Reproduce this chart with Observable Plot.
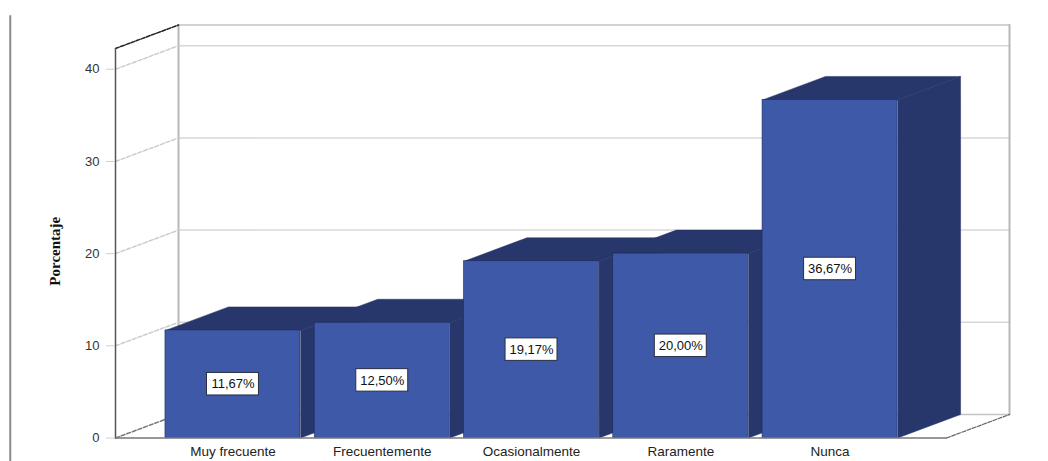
<!DOCTYPE html>
<html>
<head>
<meta charset="utf-8">
<script src="https://cdn.jsdelivr.net/npm/d3@7"></script>
<script src="https://cdn.jsdelivr.net/npm/@observablehq/plot@0.6"></script>
<style>
html,body{margin:0;padding:0;background:#fff;overflow:hidden}
svg{display:block}
</style>
</head>
<body>
<div id="chart"></div>
<script>
const categories = ["Muy frecuente", "Frecuentemente", "Ocasionalmente", "Raramente", "Nunca"];
const percentages = [11.67, 12.50, 19.17, 20.00, 36.67];
const percentLabels = ["11,67%", "12,50%", "19,17%", "20,00%", "36,67%"];
const yTicks = [0, 10, 20, 30, 40];
const yTitle = "Porcentaje";

// Axis-unit geometry of the 3D box (x in category steps, y in percent)
const xMin = -0.787, xMax = 4.78, yMax = 42.25;
const depthX = 0.4221, depthY = 2.55;
const halfBar = 0.4523, halfBoxX = 0.174, halfBoxY = 1.22;

const FRONT = "#3e59a8", DARK = "#27366b";
const seg = (pts, o) => Plot.line(pts, {x: "x", y: "y", ...o});
const P = (x, y) => ({x, y});

const back = (x, y) => P(x + depthX, y + depthY);

const marks = [
  // page rule at far left
  Plot.ruleX([xMin - 0.705], {y1: -2.7, y2: 45.8, stroke: "#8a8a8a", strokeWidth: 2}),
  // back wall gridlines
  ...yTicks.slice(1).map(t => seg([back(xMin, t), back(xMax, t)], {stroke: "#d8d8d8", strokeWidth: 1.5})),
  seg([back(xMin, yMax), back(xMax, yMax)], {stroke: "#c4c4c4", strokeWidth: 1.5}),
  seg([back(xMin, 0), back(xMin, yMax)], {stroke: "#b8b8b8", strokeWidth: 2}),
  seg([back(xMax, 0), back(xMax, yMax)], {stroke: "#b8b8b8", strokeWidth: 2}),
  seg([back(xMin, 0), back(xMax, 0)], {stroke: "#c4c4c4", strokeWidth: 1.5}),
  // side wall dashed gridlines
  ...yTicks.slice(1).map(t => seg([P(xMin, t), back(xMin, t)], {stroke: "#cccccc", strokeDasharray: "4 2"})),
  seg([P(xMin, yMax), back(xMin, yMax)], {stroke: "#222", strokeWidth: 1.5, strokeDasharray: "4 1.5"}),
  seg([P(xMin, 0), back(xMin, 0)], {stroke: "#777", strokeDasharray: "4 2"}),
  seg([P(xMax, 0), back(xMax, 0)], {stroke: "#666", strokeWidth: 1.2, strokeDasharray: "4 1.5"}),
  // bars, left to right so that each front covers its neighbour's side
  ...percentages.flatMap((v, i) => {
    const l = i - halfBar, r = i + halfBar;
    return [
      Plot.line([P(l, v), back(l, v), back(r, v), P(r, v)], {x: "x", y: "y", fill: DARK, stroke: DARK, strokeWidth: 0.5}),
      Plot.line([P(r, 0), back(r, 0), back(r, v), P(r, v)], {x: "x", y: "y", fill: DARK, stroke: DARK, strokeWidth: 0.5}),
      Plot.rect([v], {x1: l, x2: r, y1: 0, y2: d => d, fill: FRONT, stroke: "#1f2c5c", strokeWidth: 0.6})
    ];
  }),
  // front axis lines
  seg([P(xMin, 0), P(xMin, yMax)], {stroke: "#555", strokeWidth: 1.5}),
  seg([P(xMin, 0), P(xMax, 0)], {stroke: "#777", strokeWidth: 1.5}),
  // value labels
  Plot.rect(percentages, {
    x1: (d, i) => i - halfBoxX, x2: (d, i) => i + halfBoxX,
    y1: d => d / 2 - halfBoxY, y2: d => d / 2 + halfBoxY,
    fill: "white", stroke: "#2a2f45", strokeWidth: 1
  }),
  Plot.text(percentages, {
    x: (d, i) => i, y: d => d / 2, text: (d, i) => percentLabels[i],
    fill: "#111", fontSize: 13, fontFamily: "Liberation Sans"
  }),
  // axes
  Plot.axisY({
    ticks: yTicks, tickSize: 9, tickPadding: 7, label: null, stroke: "#cfcfcf",
    fill: "#333", fontSize: 13, fontFamily: "Liberation Sans"
  }),
  Plot.axisX({
    ticks: d3.range(categories.length), tickFormat: i => categories[i],
    tickSize: 0, tickPadding: 8, label: null,
    fill: "#222", fontSize: 13.5, fontFamily: "Liberation Sans"
  }),
  Plot.text([yTitle], {
    frameAnchor: "left", textAnchor: "middle", rotate: -90, dx: -60, dy: 8,
    fontSize: 15, fontWeight: "bold", fill: "#111", fontFamily: "Liberation Serif"
  })
];

const chart = Plot.plot({
  width: 1048, height: 461,
  marginLeft: 115, marginRight: 102, marginTop: 48, marginBottom: 23.5,
  style: {background: "white"},
  x: {type: "linear", domain: [xMin, xMax]},
  y: {domain: [0, yMax]},
  marks
});
document.getElementById("chart").append(chart);
</script>
</body>
</html>
